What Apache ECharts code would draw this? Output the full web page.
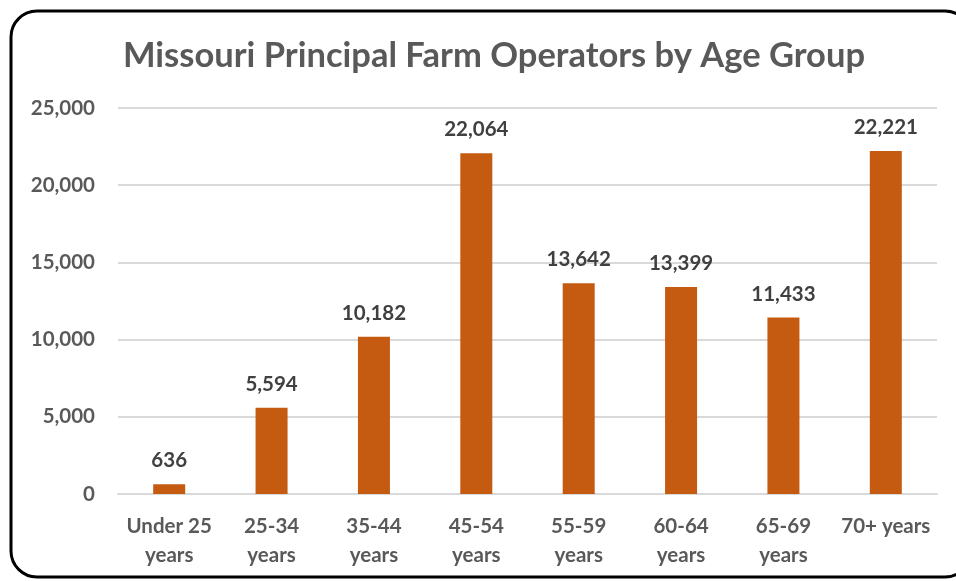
<!DOCTYPE html>
<html>
<head>
<meta charset="utf-8">
<script src="https://cdn.jsdelivr.net/npm/echarts@6/dist/echarts.min.js"></script>
<style>
  html, body { margin: 0; padding: 0; background: #fff; }
  #chart { width: 956px; height: 581px; }
</style>
</head>
<body>
<div id="chart"></div>
<script>
// age groups and operator counts
const categories = ['Under 25\nyears', '25-34\nyears', '35-44\nyears', '45-54\nyears',
  '55-59\nyears', '60-64\nyears', '65-69\nyears', '70+ years'];
const operators = [636, 5594, 10182, 22064, 13642, 13399, 11433, 22221];
const yTicks = { min: 0, max: 25000, interval: 5000 };

const textGray = '#595959';
const font = 'Lato, "Open Sans", sans-serif';

const chart = echarts.init(document.getElementById('chart'));
chart.setOption({
  animation: false,
  title: {
    text: 'Missouri Principal Farm Operators by Age Group',
    left: 118,
    top: 33,
    textStyle: { fontFamily: font, fontSize: 34.5, fontWeight: 'bold', color: textGray }
  },
  graphic: [{
    type: 'rect',
    shape: { x: 11, y: 11, width: 960, height: 566, r: 26 },
    style: { fill: 'none', stroke: '#000', lineWidth: 3 },
    z: 100
  }],
  grid: { left: 118, right: 19, top: 108, bottom: 87 },
  xAxis: {
    type: 'category',
    data: categories,
    axisLine: { lineStyle: { color: '#d9d9d9', width: 2 } },
    axisTick: { show: false },
    axisLabel: {
      margin: 18, fontFamily: font, fontSize: 20.5, fontWeight: 'bold',
      color: textGray, lineHeight: 29, interval: 0
    }
  },
  yAxis: {
    type: 'value',
    min: yTicks.min, max: yTicks.max, interval: yTicks.interval,
    axisLine: { show: false },
    axisTick: { show: false },
    splitLine: { lineStyle: { color: '#d9d9d9', width: 2 } },
    axisLabel: {
      margin: 23, fontFamily: font, fontSize: 20.5, fontWeight: 'bold', color: textGray,
      formatter: v => v.toLocaleString('en-US')
    }
  },
  series: [{
    type: 'bar',
    data: operators,
    barWidth: 32,
    itemStyle: { color: '#C55A11' },
    label: {
      show: true, position: 'top', distance: 13,
      fontFamily: font, fontSize: 20.5, fontWeight: 'bold', color: '#404040',
      formatter: p => p.value.toLocaleString('en-US')
    }
  }]
});
</script>
</body>
</html>
